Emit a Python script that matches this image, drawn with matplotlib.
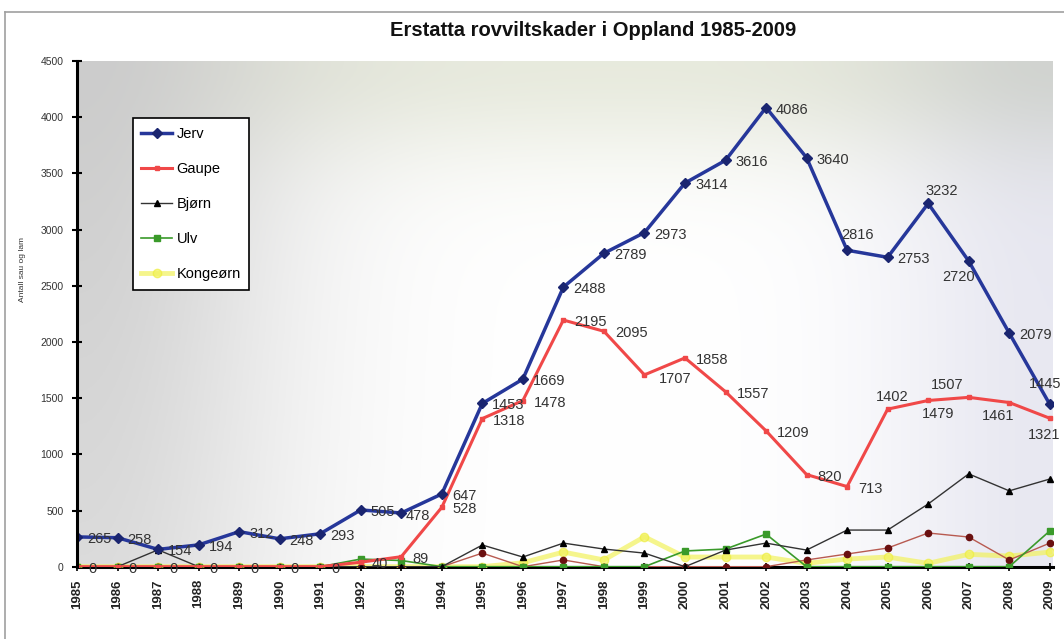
import matplotlib
matplotlib.use('Agg')
import matplotlib.pyplot as plt
import numpy as np

plt.rcParams['font.family'] = ['Liberation Sans', 'DejaVu Sans']

# data
years = list(range(1985, 2010))
jerv = [265, 258, 154, 194, 312, 248, 293, 505, 478, 647, 1453, 1669, 2488,
        2789, 2973, 3414, 3616, 4086, 3640, 2816, 2753, 3232, 2720, 2079, 1445]
gaupe = [0, 0, 0, 0, 0, 0, 0, 40, 89, 528, 1318, 1478, 2195,
         2095, 1707, 1858, 1557, 1209, 820, 713, 1402, 1479, 1507, 1461, 1321]
bjorn = [0, 0, 150, 0, 0, 0, 0, 0, 0, 0, 193, 86, 210,
         157, 121, 0, 148, 210, 148, 326, 326, 558, 826, 675, 780]
ulv = [0, 0, 0, 0, 0, 0, 0, 68, 55, 0, 0, 0, 0,
       0, 0, 140, 157, 290, 0, 0, 0, 0, 0, 0, 318]
kongeorn = [0, 0, 0, 0, 0, 0, 0, 0, 0, 0, 0, 35, 130,
            60, 266, 86, 86, 86, 30, 68, 86, 30, 110, 95, 130]
other = [0, 0, 0, 0, 0, 0, 0, 0, 0, 0, 121, 0, 60,
         0, 0, 0, 0, 0, 60, 113, 166, 300, 264, 60, 210]

fig = plt.figure(figsize=(10.64, 6.39), dpi=100)
fig.patch.set_facecolor('white')

# outer chart frame
fig.add_artist(plt.Line2D([5/1064, 5/1064], [0, 1 - 12/639], color='#a0a0a0', lw=1.2))
fig.add_artist(plt.Line2D([5/1064, 1], [1 - 12/639, 1 - 12/639], color='#a0a0a0', lw=1.2))

ax = fig.add_axes([77/1064, 1 - 566.7/639, 976/1064, 505.7/639])
x0, x1 = 1985, 2009.08
ax.set_xlim(x0, x1)
ax.set_ylim(0, 4500)

# background gradient of the plot area
u, v = np.meshgrid(np.linspace(0, 1, 300), np.linspace(0, 1, 200))
img = np.ones((200, 300, 3))
left = np.exp(-(u / 0.22) ** 2) * (0.7 + 0.3 * v)
right = np.exp(-((1 - u) / 0.18) ** 2)
top = np.exp(-((1 - v) / 0.2) ** 2)
grey = np.array([0.80, 0.80, 0.80])
lav = np.array([0.90, 0.90, 0.94])
yel = np.array([0.91, 0.92, 0.87])
img = img - left[..., None] * (1 - grey) - right[..., None] * (1 - lav) * 0.9 \
    - top[..., None] * (1 - yel) * (1 - left[..., None])
img = np.clip(img, 0, 1)
ax.imshow(img, extent=[x0, x1, 0, 4500], origin='lower', aspect='auto', zorder=0)

ax.plot(years, kongeorn, color='#f2f25c', lw=3.5, alpha=0.7, marker='o', ms=6,
        mec='#eeee40', label='Kongeørn', zorder=2)
ax.plot(years, other, color='#b85a50', lw=1, marker='o', ms=4.5, mfc='#6a1010',
        mec='#6a1010', label='_nolegend_', zorder=3)
ax.plot(years, ulv, color='#3a9a2a', lw=1.2, marker='s', ms=5, label='Ulv', zorder=3)
ax.plot(years, bjorn, color='#333333', lw=1, marker='^', ms=5, mfc='black',
        mec='black', label='Bjørn', zorder=4)
ax.plot(years, gaupe, color='#f04848', lw=2.2, marker='s', ms=3.5, label='Gaupe', zorder=5)
ax.plot(years, jerv, color='#26379a', lw=2.5, marker='D', ms=5, mfc='#1a2570',
        mec='#1a2570', label='Jerv', zorder=6)

lbl = dict(fontsize=10.5, color='#333333', textcoords='offset pixels',
           va='center', zorder=7)

jerv_off = {2004: (-6, 15, 'left'), 2006: (-3, 12, 'left'),
            2007: (6, -16, 'right'), 2009: (12, 20, 'right'),
            1993: (4, -3, 'left')}
for yr, val in zip(years, jerv):
    dx, dy, ha = jerv_off.get(yr, (10, -2, 'left'))
    ax.annotate(str(val), (yr, val), xytext=(dx, dy), ha=ha, **lbl)

gaupe_off = {1999: (14, -4, 'left'), 2005: (5, 12, 'center'),
             2006: (10, -14, 'center'), 2007: (-22, 12, 'center'),
             2008: (-11, -13, 'center'), 2009: (11, -17, 'right')}
for yr, val in zip(years, gaupe):
    dx, dy, ha = gaupe_off.get(yr, (11, -2, 'left'))
    ax.annotate(str(val), (yr, val), xytext=(dx, dy), ha=ha, **lbl)

ax.set_xticks(years)
ax.set_xticklabels([str(y) for y in years], rotation=90, fontsize=9.5,
                   fontweight='bold', color='#222222')
ax.set_yticks(range(0, 4501, 500))
ax.set_yticklabels([str(t) for t in range(0, 4501, 500)], fontsize=7.5, color='#333333')
ax.tick_params(axis='y', direction='inout', length=7, width=1.5, pad=6)
ax.tick_params(axis='x', direction='inout', length=6, width=1.2, pad=6)

for s in ['top', 'right']:
    ax.spines[s].set_visible(False)
ax.spines['left'].set_linewidth(2.2)
ax.spines['bottom'].set_linewidth(2.2)
ax.spines['left'].set_zorder(8)
ax.spines['bottom'].set_zorder(1)

fig.text(22/1064, 1 - 270/639, 'Antall sau og lam', rotation=90, fontsize=6,
         ha='center', va='center', color='#333333')
fig.text(593/1064, 1 - 31/639, 'Erstatta rovviltskader i Oppland 1985-2009',
         fontsize=14.5, fontweight='bold', ha='center', va='center', color='#111111')

handles, labels = ax.get_legend_handles_labels()
order = ['Jerv', 'Gaupe', 'Bjørn', 'Ulv', 'Kongeørn']
hs = [handles[labels.index(n)] for n in order]
leg = ax.legend(hs, order, loc='upper left', bbox_to_anchor=(0.057, 0.887),
                fontsize=10.5, frameon=True, fancybox=False, edgecolor='black',
                framealpha=1, labelspacing=1.45, handlelength=2.1,
                handletextpad=0.3, borderpad=0.6, borderaxespad=0)
leg.get_frame().set_linewidth(1.2)
leg.set_zorder(9)

fig.savefig('out.png', dpi=100)
